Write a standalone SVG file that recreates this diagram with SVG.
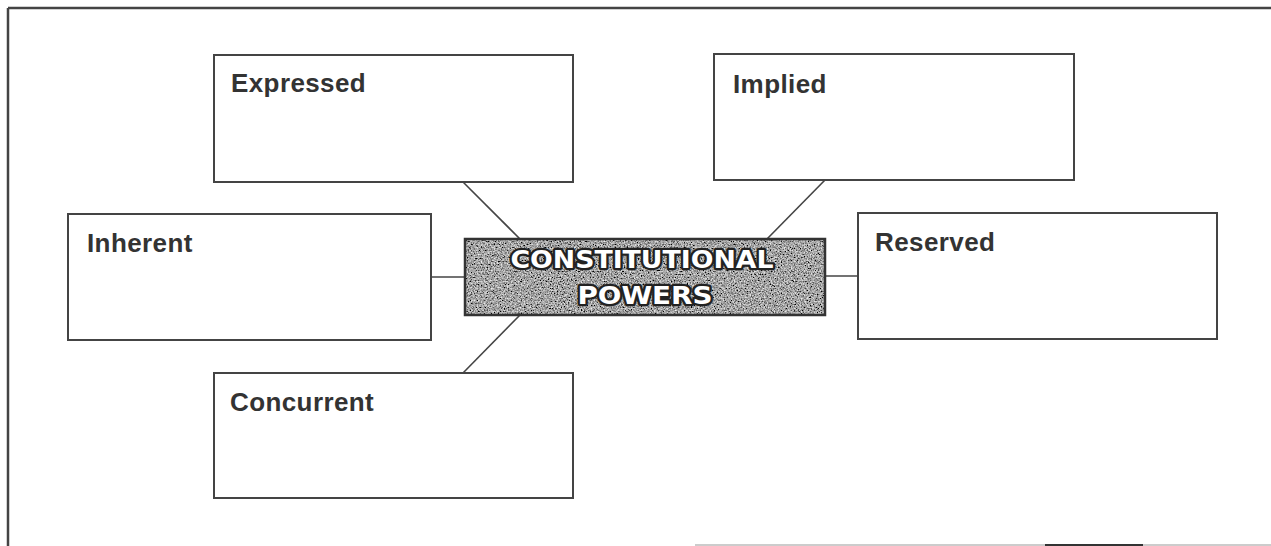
<svg xmlns="http://www.w3.org/2000/svg" width="1271" height="546" viewBox="0 0 1271 546">
<style>
.box{fill:#fff;stroke:#444;stroke-width:2}
.lbl{font-family:"Liberation Sans",Arial,sans-serif;font-weight:bold;font-size:26px;fill:#333;letter-spacing:0.4px}
.conn line{stroke:#444;stroke-width:1.6}
.frame{stroke:#444;stroke-width:2.5;fill:none}
.ctext{font-family:"DejaVu Sans","Liberation Sans",sans-serif;font-weight:bold;font-size:25px;fill:#fff;stroke:#222;stroke-width:4.5;paint-order:stroke;stroke-linejoin:round}
</style>
<defs>
<filter id="noise" x="0" y="0" width="100%" height="100%" filterUnits="objectBoundingBox">
<feTurbulence type="fractalNoise" baseFrequency="0.7" numOctaves="2" seed="7" result="t"/>
<feColorMatrix in="t" type="matrix" values="1.5 0 0 0 -0.38  1.5 0 0 0 -0.38  1.5 0 0 0 -0.38  0 0 0 0 1"/>
</filter>
</defs>
<rect width="1271" height="546" fill="#fff"/>
<g id="frame">
<line class="frame" x1="8" y1="8" x2="1271" y2="8"/>
<line class="frame" x1="8" y1="8" x2="8" y2="546"/>
<line x1="695" y1="545" x2="1271" y2="545" stroke="#bbb" stroke-width="1.5"/>
<line x1="1045" y1="545" x2="1143" y2="545" stroke="#333" stroke-width="2"/>
</g>
<g id="connectors" class="conn">
<line x1="463" y1="182" x2="520" y2="239"/>
<line x1="825" y1="180" x2="767" y2="239"/>
<line x1="431" y1="277" x2="465" y2="277"/>
<line x1="825" y1="276" x2="858" y2="276"/>
<line x1="520" y1="315" x2="463" y2="373"/>
</g>
<g id="expressed">
<rect class="box" x="214" y="55" width="359" height="127"/>
<text class="lbl" x="231" y="92">Expressed</text>
</g>
<g id="implied">
<rect class="box" x="714" y="54" width="360" height="126"/>
<text class="lbl" x="733" y="93">Implied</text>
</g>
<g id="inherent">
<rect class="box" x="68" y="214" width="363" height="126"/>
<text class="lbl" x="87" y="252">Inherent</text>
</g>
<g id="reserved">
<rect class="box" x="858" y="213" width="359" height="126"/>
<text class="lbl" x="875" y="251">Reserved</text>
</g>
<g id="concurrent">
<rect class="box" x="214" y="373" width="359" height="125"/>
<text class="lbl" x="230" y="411">Concurrent</text>
</g>
<g id="center">
<rect x="465" y="239" width="360" height="76" fill="#888" filter="url(#noise)"/>
<rect x="465" y="239" width="360" height="76" fill="none" stroke="#333" stroke-width="2.5"/>
<text class="ctext" x="642" y="268" text-anchor="middle" textLength="263" lengthAdjust="spacingAndGlyphs">CONSTITUTIONAL</text>
<text class="ctext" x="645" y="304" text-anchor="middle" textLength="135" lengthAdjust="spacingAndGlyphs">POWERS</text>
</g>
</svg>
